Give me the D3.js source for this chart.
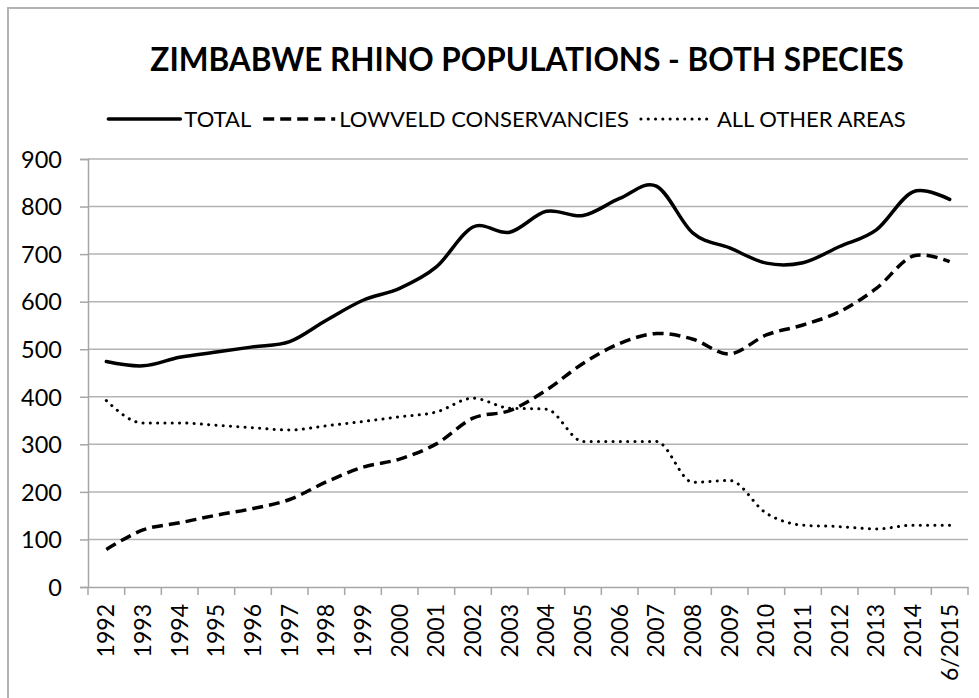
<!DOCTYPE html>
<html>
<head>
<meta charset="utf-8">
<script src="https://cdn.jsdelivr.net/npm/d3@7/dist/d3.min.js"></script>
<style>
  html, body { margin: 0; padding: 0; background: #fff; }
  svg { display: block; }
  text { font-family: Lato, "Open Sans", sans-serif; fill: #000; }
</style>
</head>
<body>
<svg id="chart" width="979" height="698"></svg>
<script>
const categories = ["1992","1993","1994","1995","1996","1997","1998","1999","2000","2001","2002","2003","2004","2005","2006","2007","2008","2009","2010","2011","2012","2013","2014","6/2015"];
const total = [474,465,483,494,505,516,561,603,628,673,757,746,790,781,817,843,744,713,681,682,716,751,831,815];
const lowveld = [79,120,135,151,165,184,221,252,269,301,355,371,414,470,512,533,521,490,530,551,579,628,696,684];
const otherAreas = [392,345,345,340,335,330,339,348,358,368,397,376,374,306,306,306,220,224,155,130,127,122,130,130];
const yTicks = [0,100,200,300,400,500,600,700,800,900];
const seriesNames = ["TOTAL","LOWVELD CONSERVANCIES","ALL OTHER AREAS"];
const titleText = "ZIMBABWE RHINO POPULATIONS - BOTH SPECIES";

const svg = d3.select("#chart");
const plot = {left: 88, right: 968, top: 159, bottom: 587};

// outer border
svg.append("rect").attr("x", 8).attr("y", 8).attr("width", 1000).attr("height", 720)
  .attr("fill", "none").attr("stroke", "#b3b3b3").attr("stroke-width", 2);

const x = d3.scaleBand().domain(categories).range([plot.left, plot.right]).padding(0);
const y = d3.scaleLinear().domain([0, 900]).range([plot.bottom, plot.top]);

// gridlines
svg.append("g").selectAll("line").data(yTicks.filter(d => d > 0)).join("line")
  .attr("x1", plot.left).attr("x2", plot.right)
  .attr("y1", d => y(d)).attr("y2", d => y(d))
  .attr("stroke", "#b3b3b3").attr("stroke-width", 1.5);

// y axis
const yAxis = d3.axisLeft(y).tickValues(yTicks).tickSize(8).tickPadding(18).tickFormat(d3.format("d"));
const gy = svg.append("g").attr("transform", `translate(${plot.left},0)`).call(yAxis);
gy.select(".domain").attr("stroke", "#a6a6a6").attr("stroke-width", 1.5);
gy.selectAll(".tick line").attr("stroke", "#a6a6a6").attr("stroke-width", 1.5);
gy.selectAll(".tick text").style("font-size", "23.5px").style("font-family", "Lato").attr("dy", "0.35em");

// x axis
const xAxis = d3.axisBottom(x).tickSize(0).tickPadding(0);
const gx = svg.append("g").attr("transform", `translate(0,${plot.bottom})`).call(xAxis);
gx.select(".domain").attr("stroke", "#a6a6a6").attr("stroke-width", 1.5);
gx.selectAll(".tick text")
  .style("font-size", "23px").style("font-family", "Lato")
  .attr("transform", "rotate(-90)")
  .attr("text-anchor", "end")
  .attr("x", -17).attr("y", 0).attr("dy", "0.35em");
// tick marks at band boundaries
const bounds = categories.map(c => x(c)).concat([plot.right]);
svg.append("g").selectAll("line").data(bounds).join("line")
  .attr("x1", d => d).attr("x2", d => d)
  .attr("y1", plot.bottom).attr("y2", plot.bottom + 8)
  .attr("stroke", "#a6a6a6").attr("stroke-width", 1.5);

// lines
const xPos = (d, i) => x(categories[i]) + x.bandwidth() / 2;
const smooth = d3.line().x(xPos).y(d => y(d)).curve(d3.curveCardinal.tension(0));
const mono = d3.line().x(xPos).y(d => y(d)).curve(d3.curveMonotoneX);

const styles = [
  {data: total, gen: smooth, dash: null, width: 3.5, cap: "round"},
  {data: lowveld, gen: smooth, dash: "11,6", width: 3.5, cap: "butt"},
  {data: otherAreas, gen: mono, dash: "0.1,7.2", width: 3, cap: "round"}
];
styles.forEach(s => {
  svg.append("path").datum(s.data).attr("d", s.gen)
    .attr("fill", "none").attr("stroke", "#000")
    .attr("stroke-width", s.width)
    .attr("stroke-linecap", s.cap)
    .attr("stroke-linejoin", "round")
    .attr("stroke-dasharray", s.dash);
});

// title
svg.append("text").attr("x", 527).attr("y", 71).attr("text-anchor", "middle")
  .style("font-size", "31.5px").style("font-weight", "bold").style("font-family", "Lato")
  .text(titleText);

// legend
const lg = svg.append("g");
const legY = 119;
const sampleLen = 72;
let cx = 0;
seriesNames.forEach((name, i) => {
  const g = lg.append("g");
  g.append("line").attr("x1", cx).attr("x2", cx + sampleLen).attr("y1", legY).attr("y2", legY)
    .attr("stroke", "#000").attr("stroke-width", styles[i].width)
    .attr("stroke-linecap", styles[i].cap)
    .attr("stroke-dasharray", styles[i].dash);
  const t = g.append("text").attr("x", cx + sampleLen + 4).attr("y", legY).attr("dy", "0.35em")
    .style("font-size", "22px").style("font-family", "Lato").text(name);
  cx += sampleLen + 4 + t.node().getComputedTextLength() + 12;
});
const legW = cx - 12;
lg.attr("transform", `translate(${507 - legW / 2},0)`);
</script>
</body>
</html>
